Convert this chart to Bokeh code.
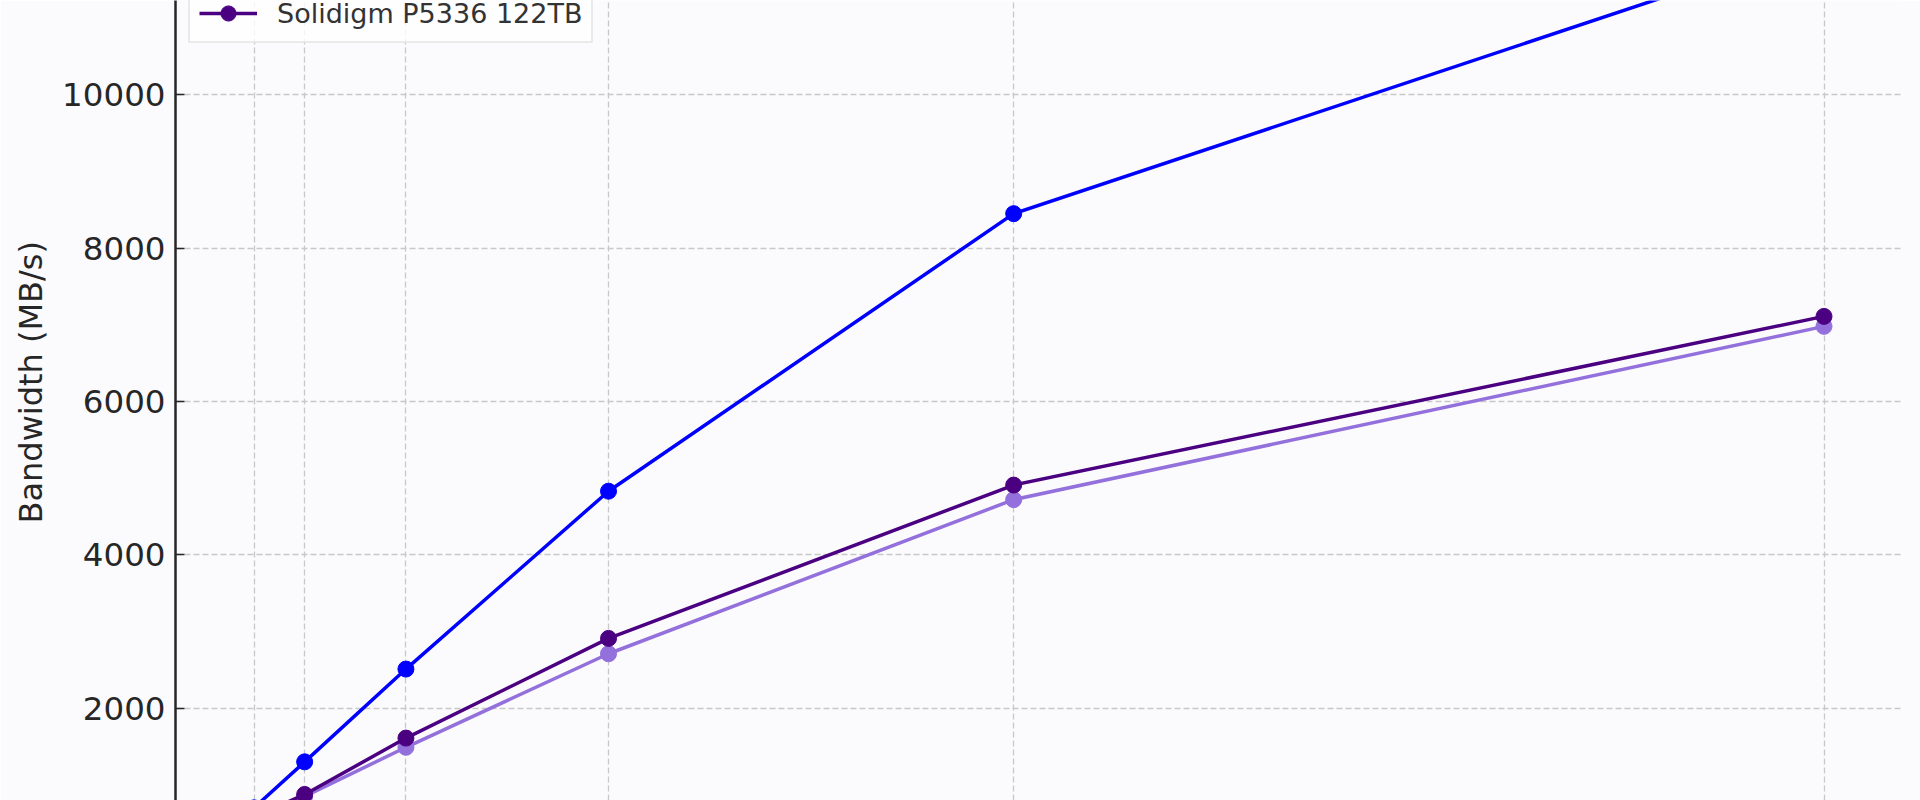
from bokeh.plotting import figure
from bokeh.models import FixedTicker, Legend, LegendItem, Range1d, Title
from bokeh.embed import file_html
from bokeh.resources import INLINE

# ---- data ----
threads = [1, 2, 4, 8, 16, 32]
blue_vals = [700, 1300, 2510, 4830, 8450, 11970]
purple_vals = [540, 850, 1490, 2710, 4720, 6980]
indigo_vals = [580, 875, 1610, 2910, 4910, 7110]
y_ticks = [0, 2000, 4000, 6000, 8000, 10000, 12000]
legend_label = "Solidigm P5336 122TB"
y_label = "Bandwidth (MB/s)"

BG = "#fbfbfd"
TXT = "#262626"

p = figure(width=1920, height=800, output_backend="svg", toolbar_location=None,
           x_range=Range1d(-0.55, 33.55), y_range=Range1d(796, 11230),
           x_axis_location=None,
           min_border_left=175, min_border_right=18, min_border_top=0, min_border_bottom=0,
           background_fill_color=BG, border_fill_color=BG)
p.outline_line_color = None

# grid
p.xgrid.ticker = FixedTicker(ticks=threads)
p.ygrid.ticker = FixedTicker(ticks=y_ticks)
for g in (p.xgrid, p.ygrid):
    g.grid_line_color = "#c8c8c8"
    g.grid_line_dash = "6 3"
    g.grid_line_width = 1.3

# y axis
p.yaxis.ticker = FixedTicker(ticks=y_ticks)
p.yaxis.axis_line_width = 2.5
p.yaxis.axis_line_color = TXT
p.yaxis.major_tick_in = 9
p.yaxis.major_tick_out = 0
p.yaxis.major_tick_line_width = 1.5
p.yaxis.major_tick_line_color = TXT
p.yaxis.minor_tick_line_color = None
p.yaxis.major_label_text_font = "DejaVu Sans"
p.yaxis.major_label_text_font_size = "32.5px"
p.yaxis.major_label_text_color = TXT
p.yaxis.major_label_standoff = 10

# y-axis title, offset along the axis as in the reference
p.add_layout(Title(text=y_label, align="left", offset=277, vertical_align="middle",
                   standoff=18, text_font="DejaVu Sans", text_font_size="32px",
                   text_font_style="normal", text_color=TXT), "left")

# series
renderers = {}
for name, vals, color in [("blue", blue_vals, "#0000ff"),
                          ("purple", purple_vals, "#9370db"),
                          ("indigo", indigo_vals, "#4b0082")]:
    ln = p.line(threads, vals, line_color=color, line_width=3.5)
    sc = p.scatter(threads, vals, size=16, fill_color=color, line_color=color)
    renderers[name] = (ln, sc)

legend = Legend(items=[LegendItem(label=legend_label, renderers=list(renderers["indigo"]))],
                location=(13, 757), margin=0, padding=9,
                glyph_width=58, glyph_height=38, label_standoff=20,
                label_text_font="DejaVu Sans", label_text_font_size="27px",
                label_text_color="#333333",
                background_fill_color="#ffffff", background_fill_alpha=0.8,
                border_line_color="#d6d6d6", border_line_width=2)
p.add_layout(legend)

open("out.html", "w").write(file_html(p, INLINE))
